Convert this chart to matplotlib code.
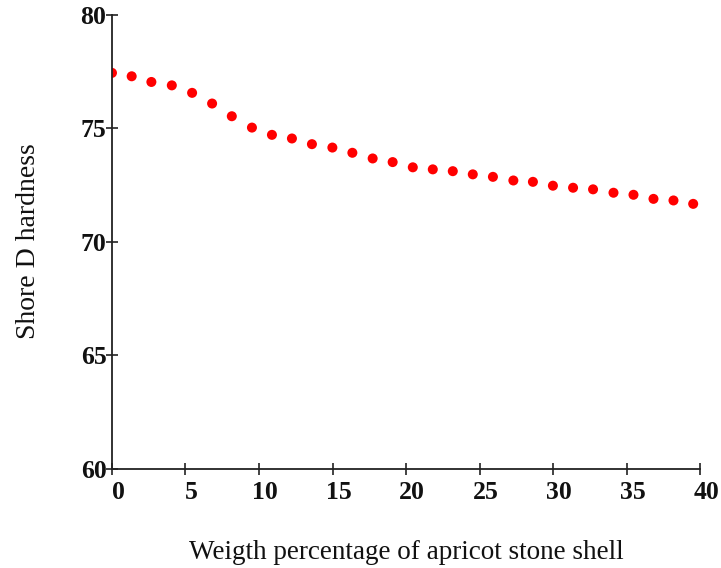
import matplotlib
matplotlib.use("Agg")
import matplotlib.pyplot as plt
from matplotlib.transforms import ScaledTranslation

# Shore D hardness vs. apricot stone shell content (wt %)
shell_wt = [0.0, 1.34, 2.68, 4.07, 5.45, 6.81, 8.15, 9.52, 10.88, 12.24,
            13.6, 14.99, 16.35, 17.73, 19.09, 20.46, 21.82, 23.18, 24.54, 25.91,
            27.3, 28.63, 29.99, 31.36, 32.72, 34.11, 35.47, 36.83, 38.19, 39.53]
hardness = [77.45, 77.30, 77.05, 76.90, 76.57, 76.10, 75.54, 75.04, 74.72, 74.56,
            74.31, 74.16, 73.93, 73.68, 73.52, 73.29, 73.20, 73.12, 72.98, 72.87,
            72.71, 72.65, 72.48, 72.39, 72.32, 72.17, 72.08, 71.90, 71.83, 71.68]

x_ticks = [0, 5, 10, 15, 20, 25, 30, 35, 40]
y_ticks = [60, 65, 70, 75, 80]

serif = ["Liberation Serif", "DejaVu Serif"]

fig = plt.figure(figsize=(7.21, 5.68), dpi=100)
ax = fig.add_axes([0.1553, 0.1743, 0.8157, 0.7993])

ax.scatter(shell_wt, hardness, s=52, color="#ff0000", edgecolors="none", zorder=1)

ax.set_xlim(0, 40)
ax.set_ylim(60, 80)
ax.set_xticks(x_ticks)
ax.set_yticks(y_ticks)

for side in ("top", "right"):
    ax.spines[side].set_visible(False)
for side in ("left", "bottom"):
    ax.spines[side].set_linewidth(1.3)
    ax.spines[side].set_color("#222222")
    ax.spines[side].set_zorder(3)

ax.tick_params(axis="both", direction="inout", length=8, width=1.2, color="#222222",
               labelsize=18.5)
ax.tick_params(axis="x", pad=5)
ax.tick_params(axis="y", pad=0)

for lab in ax.get_xticklabels() + ax.get_yticklabels():
    lab.set_fontfamily(serif)
    lab.set_fontweight("bold")
    lab.set_color("#111111")

# x tick labels sit slightly to the right of their ticks
shift = ScaledTranslation(6 / 100, 0, fig.dpi_scale_trans)
for lab in ax.get_xticklabels():
    lab.set_transform(lab.get_transform() + shift)

fig.text(0.563, 0.027, "Weigth percentage of apricot stone shell",
         family=serif, fontsize=19.5, ha="center", va="center", color="#111111")
fig.text(0.039, 0.576, "Shore D hardness", family=serif, fontsize=20,
         rotation=90, ha="center", va="center", color="#111111")

fig.savefig("out.png", dpi=100)
